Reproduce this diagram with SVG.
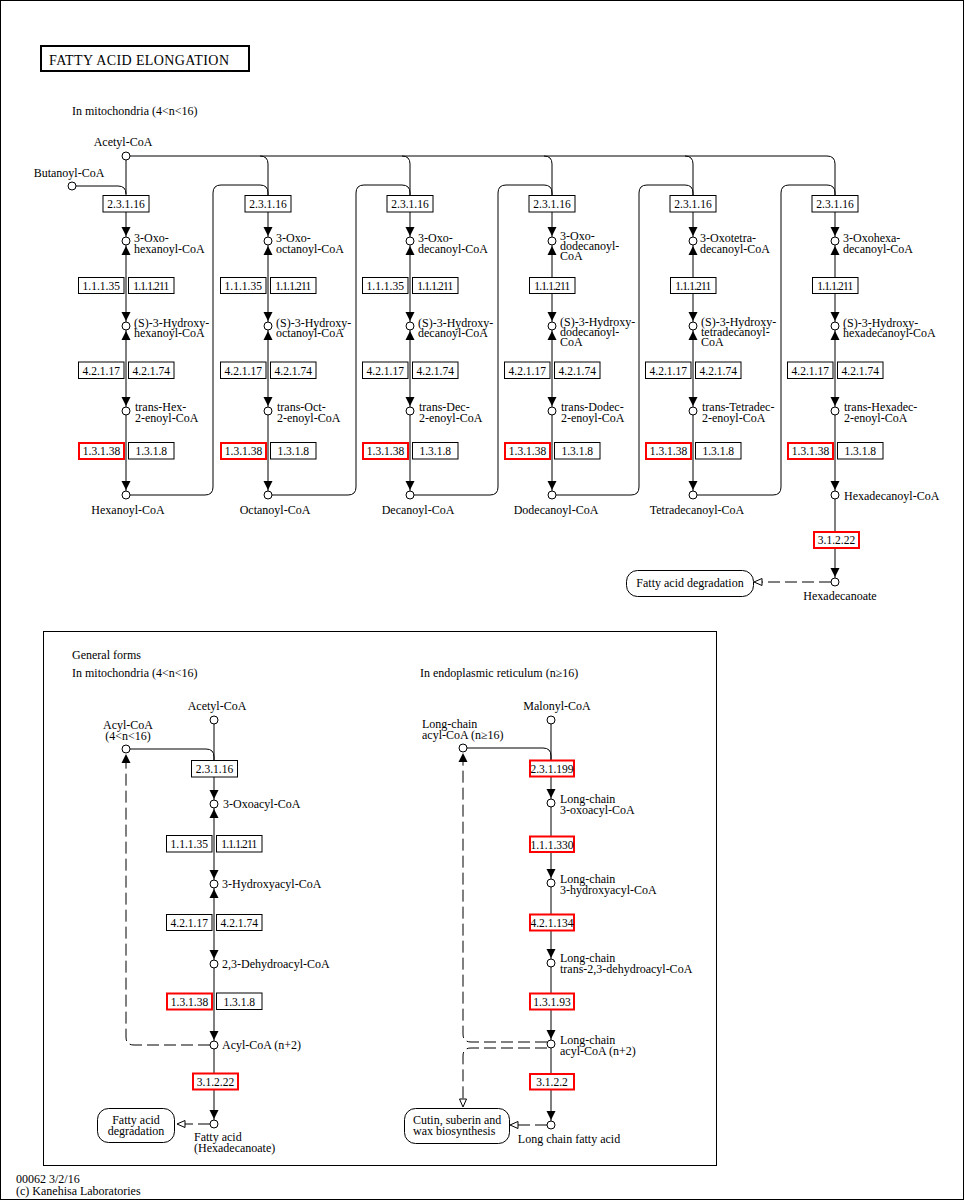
<svg xmlns="http://www.w3.org/2000/svg" xmlns:xlink="http://www.w3.org/1999/xlink" width="965" height="1201" viewBox="0 0 965 1201">
<style>
text{font-family:"Liberation Serif","Times New Roman",serif;font-size:12px;fill:#000}
.m{text-anchor:middle}
.et{font-size:11.5px;text-anchor:middle}
.c{fill:#fff;stroke:#000;stroke-width:1}
.e{fill:#fff;stroke:#000;stroke-width:1}
.r{fill:#fff;stroke:#f00;stroke-width:2}
.l{fill:none;stroke:#000;stroke-width:1}
.d{fill:none;stroke:#000;stroke-width:1;stroke-dasharray:12,5}
.h{fill:#fff;stroke:#000;stroke-width:1}
.p{fill:#fff;stroke:#000;stroke-width:1}
</style>
<defs>
<path id="ad" d="M-4.5,-14H4.5L0,-5Z" fill="#000"/>
<path id="au" d="M-4.5,14H4.5L0,5Z" fill="#000"/>
<path id="hl" d="M0,0L8,-3.5V3.5Z" class="h"/>
<path id="hd" d="M0,0L-3.5,-8H3.5Z" class="h"/>
</defs>
<rect x="0.5" y="0.5" width="963" height="1199" fill="#fff" stroke="#000"/>
<g id="title"><rect x="41" y="46" width="208" height="25" fill="none" stroke="#000" stroke-width="2"/><text x="49" y="65" style="font-size:14px" textLength="180">FATTY ACID ELONGATION</text></g>
<text x="72" y="115">In mitochondria (4&lt;n&lt;16)</text>
<rect x="43.5" y="631.5" width="673" height="534" fill="none" stroke="#000"/>
<text x="72" y="659">General forms</text>
<text x="72" y="677">In mitochondria (4&lt;n&lt;16)</text>
<text x="420" y="677">In endoplasmic reticulum (n≥16)</text>
<text x="16" y="1183">00062 3/2/16</text>
<text x="16" y="1195">(c) Kanehisa Laboratories</text>

<g id="connectors">
<path class="l" d="M126,156H827Q835,156 835,164V582"/>
<path class="l" d="M126,156V495"/>
<path class="l" d="M260,156Q268,156 268,164V495"/>
<path class="l" d="M402,156Q410,156 410,164V495"/>
<path class="l" d="M544,156Q552,156 552,164V495"/>
<path class="l" d="M685,156Q693,156 693,164V495"/>
<path class="l" d="M72,186H118Q126,186 126,194"/>
<path class="l" d="M126,495H205Q213,495 213,487V193Q213,185 221,185H260Q268,185 268,193V196"/>
<path class="l" d="M268,495H348Q356,495 356,487V193Q356,185 364,185H402Q410,185 410,193V196"/>
<path class="l" d="M410,495H490Q498,495 498,487V193Q498,185 506,185H544Q552,185 552,193V196"/>
<path class="l" d="M552,495H631Q639,495 639,487V193Q639,185 647,185H685Q693,185 693,193V196"/>
<path class="l" d="M693,495H773Q781,495 781,487V193Q781,185 789,185H827Q835,185 835,193V196"/>
<path class="d" d="M831,582H762"/>
<use xlink:href="#hl" x="754" y="582"/>
<use xlink:href="#ad" x="126" y="241"/><use xlink:href="#au" x="126" y="241"/><use xlink:href="#ad" x="126" y="326"/><use xlink:href="#au" x="126" y="326"/><use xlink:href="#ad" x="126" y="411"/><use xlink:href="#ad" x="126" y="495"/>
<use xlink:href="#ad" x="268" y="241"/><use xlink:href="#au" x="268" y="241"/><use xlink:href="#ad" x="268" y="326"/><use xlink:href="#au" x="268" y="326"/><use xlink:href="#ad" x="268" y="411"/><use xlink:href="#ad" x="268" y="495"/>
<use xlink:href="#ad" x="410" y="241"/><use xlink:href="#au" x="410" y="241"/><use xlink:href="#ad" x="410" y="326"/><use xlink:href="#au" x="410" y="326"/><use xlink:href="#ad" x="410" y="411"/><use xlink:href="#ad" x="410" y="495"/>
<use xlink:href="#ad" x="552" y="241"/><use xlink:href="#au" x="552" y="241"/><use xlink:href="#ad" x="552" y="326"/><use xlink:href="#au" x="552" y="326"/><use xlink:href="#ad" x="552" y="411"/><use xlink:href="#ad" x="552" y="495"/>
<use xlink:href="#ad" x="693" y="241"/><use xlink:href="#au" x="693" y="241"/><use xlink:href="#ad" x="693" y="326"/><use xlink:href="#au" x="693" y="326"/><use xlink:href="#ad" x="693" y="411"/><use xlink:href="#ad" x="693" y="495"/>
<use xlink:href="#ad" x="835" y="241"/><use xlink:href="#au" x="835" y="241"/><use xlink:href="#ad" x="835" y="326"/><use xlink:href="#au" x="835" y="326"/><use xlink:href="#ad" x="835" y="411"/><use xlink:href="#ad" x="835" y="495"/><use xlink:href="#ad" x="835" y="582"/>

<path class="l" d="M214,720V1124"/>
<path class="l" d="M130,749H206Q214,749 214,757V761"/>
<path class="d" d="M210,1045H134Q126,1045 126,1037V762"/>
<use xlink:href="#au" x="126" y="749"/>
<path class="d" d="M210,1124H185"/>
<use xlink:href="#hl" x="177" y="1124"/>
<use xlink:href="#ad" x="214" y="804"/><use xlink:href="#au" x="214" y="804"/><use xlink:href="#ad" x="214" y="884"/><use xlink:href="#au" x="214" y="884"/><use xlink:href="#ad" x="214" y="964"/><use xlink:href="#ad" x="214" y="1045"/><use xlink:href="#ad" x="214" y="1124"/>

<path class="l" d="M551,720V1125"/>
<path class="l" d="M467,748H543Q551,748 551,756V761"/>
<path class="d" d="M547,1042H471Q463,1042 463,1034V761"/>
<use xlink:href="#au" x="463" y="748"/>
<path class="d" d="M547,1048H471Q463,1048 463,1056V1099"/>
<use xlink:href="#hd" x="463" y="1107"/>
<path class="d" d="M547,1125H518"/>
<use xlink:href="#hl" x="510" y="1125"/>
<use xlink:href="#ad" x="551" y="803"/><use xlink:href="#ad" x="551" y="883"/><use xlink:href="#ad" x="551" y="963"/><use xlink:href="#ad" x="551" y="1044"/><use xlink:href="#ad" x="551" y="1125"/>
</g>

<!-- top compounds -->
<g id="acetyl"><circle class="c" cx="126" cy="156" r="4"/><text class="m" x="123" y="146">Acetyl-CoA</text></g>
<g id="butanoyl"><circle class="c" cx="72" cy="186" r="4"/><text class="m" x="69" y="177">Butanoyl-CoA</text></g>

<g id="c1a"><circle class="c" cx="126" cy="241" r="4"/><text x="134" y="242">3-Oxo-</text><text x="134" y="253">hexanoyl-CoA</text></g>
<g id="c1b"><circle class="c" cx="126" cy="326" r="4"/><text x="134" y="327">(S)-3-Hydroxy-</text><text x="134" y="337">hexanoyl-CoA</text></g>
<g id="c1c"><circle class="c" cx="126" cy="411" r="4"/><text x="135" y="411">trans-Hex-</text><text x="135" y="422">2-enoyl-CoA</text></g>
<g id="c1d"><circle class="c" cx="126" cy="495" r="4"/><text class="m" x="128" y="514">Hexanoyl-CoA</text></g>

<g id="c2a"><circle class="c" cx="268" cy="241" r="4"/><text x="276" y="242">3-Oxo-</text><text x="276" y="253">octanoyl-CoA</text></g>
<g id="c2b"><circle class="c" cx="268" cy="326" r="4"/><text x="276" y="327">(S)-3-Hydroxy-</text><text x="276" y="337">octanoyl-CoA</text></g>
<g id="c2c"><circle class="c" cx="268" cy="411" r="4"/><text x="277" y="411">trans-Oct-</text><text x="277" y="422">2-enoyl-CoA</text></g>
<g id="c2d"><circle class="c" cx="268" cy="495" r="4"/><text class="m" x="275" y="514">Octanoyl-CoA</text></g>

<g id="c3a"><circle class="c" cx="410" cy="241" r="4"/><text x="418" y="242">3-Oxo-</text><text x="418" y="253">decanoyl-CoA</text></g>
<g id="c3b"><circle class="c" cx="410" cy="326" r="4"/><text x="418" y="327">(S)-3-Hydroxy-</text><text x="418" y="337">decanoyl-CoA</text></g>
<g id="c3c"><circle class="c" cx="410" cy="411" r="4"/><text x="419" y="411">trans-Dec-</text><text x="419" y="422">2-enoyl-CoA</text></g>
<g id="c3d"><circle class="c" cx="410" cy="495" r="4"/><text class="m" x="418" y="514">Decanoyl-CoA</text></g>

<g id="c4a"><circle class="c" cx="552" cy="241" r="4"/><text x="560" y="240">3-Oxo-</text><text x="560" y="250">dodecanoyl-</text><text x="560" y="260">CoA</text></g>
<g id="c4b"><circle class="c" cx="552" cy="326" r="4"/><text x="560" y="326">(S)-3-Hydroxy-</text><text x="560" y="336">dodecanoyl-</text><text x="560" y="346">CoA</text></g>
<g id="c4c"><circle class="c" cx="552" cy="411" r="4"/><text x="561" y="411">trans-Dodec-</text><text x="561" y="422">2-enoyl-CoA</text></g>
<g id="c4d"><circle class="c" cx="552" cy="495" r="4"/><text class="m" x="556" y="514">Dodecanoyl-CoA</text></g>

<g id="c5a"><circle class="c" cx="693" cy="241" r="4"/><text x="700" y="242">3-Oxotetra-</text><text x="700" y="253">decanoyl-CoA</text></g>
<g id="c5b"><circle class="c" cx="693" cy="326" r="4"/><text x="701" y="326">(S)-3-Hydroxy-</text><text x="701" y="336">tetradecanoyl-</text><text x="701" y="346">CoA</text></g>
<g id="c5c"><circle class="c" cx="693" cy="411" r="4"/><text x="702" y="411">trans-Tetradec-</text><text x="702" y="422">2-enoyl-CoA</text></g>
<g id="c5d"><circle class="c" cx="693" cy="495" r="4"/><text class="m" x="697" y="514">Tetradecanoyl-CoA</text></g>

<g id="c6a"><circle class="c" cx="835" cy="241" r="4"/><text x="843" y="242">3-Oxohexa-</text><text x="843" y="253">decanoyl-CoA</text></g>
<g id="c6b"><circle class="c" cx="835" cy="326" r="4"/><text x="843" y="327">(S)-3-Hydroxy-</text><text x="843" y="337">hexadecanoyl-CoA</text></g>
<g id="c6c"><circle class="c" cx="835" cy="411" r="4"/><text x="844" y="411">trans-Hexadec-</text><text x="844" y="422">2-enoyl-CoA</text></g>
<g id="c6d"><circle class="c" cx="835" cy="495" r="4"/><text x="844" y="500">Hexadecanoyl-CoA</text></g>
<g id="hexadecanoate"><circle class="c" cx="835" cy="582" r="4"/><text class="m" x="840" y="600">Hexadecanoate</text></g>
<g id="fad1"><rect class="p" x="626.5" y="570.5" width="127" height="26" rx="11"/><text class="m" x="690" y="587">Fatty acid degradation</text></g>

<!-- top enzymes -->
<g id="e1a"><rect class="e" x="103" y="195.5" width="46" height="16.5"/><text class="et" x="126" y="208">2.3.1.16</text></g>
<g id="e2a"><rect class="e" x="245" y="195.5" width="46" height="16.5"/><text class="et" x="268" y="208">2.3.1.16</text></g>
<g id="e3a"><rect class="e" x="387" y="195.5" width="46" height="16.5"/><text class="et" x="410" y="208">2.3.1.16</text></g>
<g id="e4a"><rect class="e" x="529" y="195.5" width="46" height="16.5"/><text class="et" x="552" y="208">2.3.1.16</text></g>
<g id="e5a"><rect class="e" x="670" y="195.5" width="46" height="16.5"/><text class="et" x="693" y="208">2.3.1.16</text></g>
<g id="e6a"><rect class="e" x="812" y="195.5" width="46" height="16.5"/><text class="et" x="835" y="208">2.3.1.16</text></g>

<g id="e1b1"><rect class="e" x="78.5" y="277.5" width="45.5" height="16"/><text class="et" x="101.25" y="290">1.1.1.35</text></g>
<g id="e1b2"><rect class="e" x="128.5" y="277.5" width="45.5" height="16"/><text class="et" x="151.25" y="290" textLength="36">1.1.1.211</text></g>
<g id="e2b1"><rect class="e" x="220.5" y="277.5" width="45.5" height="16"/><text class="et" x="243.25" y="290">1.1.1.35</text></g>
<g id="e2b2"><rect class="e" x="270.5" y="277.5" width="45.5" height="16"/><text class="et" x="293.25" y="290" textLength="36">1.1.1.211</text></g>
<g id="e3b1"><rect class="e" x="362.5" y="277.5" width="45.5" height="16"/><text class="et" x="385.25" y="290">1.1.1.35</text></g>
<g id="e3b2"><rect class="e" x="412.5" y="277.5" width="45.5" height="16"/><text class="et" x="435.25" y="290" textLength="36">1.1.1.211</text></g>
<g id="e4b"><rect class="e" x="529.5" y="277.5" width="45.5" height="16"/><text class="et" x="552.25" y="290" textLength="36">1.1.1.211</text></g>
<g id="e5b"><rect class="e" x="670.5" y="277.5" width="45.5" height="16"/><text class="et" x="693.25" y="290" textLength="36">1.1.1.211</text></g>
<g id="e6b"><rect class="e" x="812.5" y="277.5" width="45.5" height="16"/><text class="et" x="835.25" y="290" textLength="36">1.1.1.211</text></g>

<g id="e1c1"><rect class="e" x="78.5" y="362" width="45.5" height="16.5"/><text class="et" x="101.25" y="375">4.2.1.17</text></g>
<g id="e1c2"><rect class="e" x="128.5" y="362" width="45.5" height="16.5"/><text class="et" x="151.25" y="375">4.2.1.74</text></g>
<g id="e2c1"><rect class="e" x="220.5" y="362" width="45.5" height="16.5"/><text class="et" x="243.25" y="375">4.2.1.17</text></g>
<g id="e2c2"><rect class="e" x="270.5" y="362" width="45.5" height="16.5"/><text class="et" x="293.25" y="375">4.2.1.74</text></g>
<g id="e3c1"><rect class="e" x="362.5" y="362" width="45.5" height="16.5"/><text class="et" x="385.25" y="375">4.2.1.17</text></g>
<g id="e3c2"><rect class="e" x="412.5" y="362" width="45.5" height="16.5"/><text class="et" x="435.25" y="375">4.2.1.74</text></g>
<g id="e4c1"><rect class="e" x="504.5" y="362" width="45.5" height="16.5"/><text class="et" x="527.25" y="375">4.2.1.17</text></g>
<g id="e4c2"><rect class="e" x="554.5" y="362" width="45.5" height="16.5"/><text class="et" x="577.25" y="375">4.2.1.74</text></g>
<g id="e5c1"><rect class="e" x="645.5" y="362" width="45.5" height="16.5"/><text class="et" x="668.25" y="375">4.2.1.17</text></g>
<g id="e5c2"><rect class="e" x="695.5" y="362" width="45.5" height="16.5"/><text class="et" x="718.25" y="375">4.2.1.74</text></g>
<g id="e6c1"><rect class="e" x="787.5" y="362" width="45.5" height="16.5"/><text class="et" x="810.25" y="375">4.2.1.17</text></g>
<g id="e6c2"><rect class="e" x="837.5" y="362" width="45.5" height="16.5"/><text class="et" x="860.25" y="375">4.2.1.74</text></g>

<g id="e1d1"><rect class="r" x="79" y="443" width="45" height="16"/><text class="et" x="101.5" y="455">1.3.1.38</text></g>
<g id="e1d2"><rect class="e" x="128.5" y="442.5" width="45.5" height="16.5"/><text class="et" x="151.25" y="455">1.3.1.8</text></g>
<g id="e2d1"><rect class="r" x="221" y="443" width="45" height="16"/><text class="et" x="243.5" y="455">1.3.1.38</text></g>
<g id="e2d2"><rect class="e" x="270.5" y="442.5" width="45.5" height="16.5"/><text class="et" x="293.25" y="455">1.3.1.8</text></g>
<g id="e3d1"><rect class="r" x="363" y="443" width="45" height="16"/><text class="et" x="385.5" y="455">1.3.1.38</text></g>
<g id="e3d2"><rect class="e" x="412.5" y="442.5" width="45.5" height="16.5"/><text class="et" x="435.25" y="455">1.3.1.8</text></g>
<g id="e4d1"><rect class="r" x="505" y="443" width="45" height="16"/><text class="et" x="527.5" y="455">1.3.1.38</text></g>
<g id="e4d2"><rect class="e" x="554.5" y="442.5" width="45.5" height="16.5"/><text class="et" x="577.25" y="455">1.3.1.8</text></g>
<g id="e5d1"><rect class="r" x="646" y="443" width="45" height="16"/><text class="et" x="668.5" y="455">1.3.1.38</text></g>
<g id="e5d2"><rect class="e" x="695.5" y="442.5" width="45.5" height="16.5"/><text class="et" x="718.25" y="455">1.3.1.8</text></g>
<g id="e6d1"><rect class="r" x="788" y="443" width="45" height="16"/><text class="et" x="810.5" y="455">1.3.1.38</text></g>
<g id="e6d2"><rect class="e" x="837.5" y="442.5" width="45.5" height="16.5"/><text class="et" x="860.25" y="455">1.3.1.8</text></g>
<g id="e6e"><rect class="r" x="814" y="532" width="45" height="16"/><text class="et" x="836.5" y="544">3.1.2.22</text></g>

<!-- general form: mitochondria -->
<g id="g_acetyl"><circle class="c" cx="214" cy="720" r="4"/><text class="m" x="217" y="710">Acetyl-CoA</text></g>
<g id="g_acyl"><circle class="c" cx="126" cy="749" r="4"/><text class="m" x="128" y="729">Acyl-CoA</text><text class="m" x="128" y="740">(4&lt;n&lt;16)</text></g>
<g id="g_oxo"><circle class="c" cx="214" cy="804" r="4"/><text x="223" y="808">3-Oxoacyl-CoA</text></g>
<g id="g_hyd"><circle class="c" cx="214" cy="884" r="4"/><text x="222" y="888">3-Hydroxyacyl-CoA</text></g>
<g id="g_deh"><circle class="c" cx="214" cy="964" r="4"/><text x="222" y="968">2,3-Dehydroacyl-CoA</text></g>
<g id="g_acyl2"><circle class="c" cx="214" cy="1045" r="4"/><text x="222" y="1049">Acyl-CoA (n+2)</text></g>
<g id="g_fa"><circle class="c" cx="214" cy="1124" r="4"/><text x="194" y="1141">Fatty acid</text><text x="194" y="1152">(Hexadecanoate)</text></g>
<g id="fad2"><rect class="p" x="97.5" y="1108.5" width="77" height="34" rx="11"/><text class="m" x="136" y="1124">Fatty acid</text><text class="m" x="136" y="1135">degradation</text></g>

<g id="ge1"><rect class="e" x="191.5" y="760.5" width="46" height="16.5"/><text class="et" x="214.5" y="773">2.3.1.16</text></g>
<g id="ge2a"><rect class="e" x="166.5" y="835.5" width="45.5" height="16.5"/><text class="et" x="189.25" y="848">1.1.1.35</text></g>
<g id="ge2b"><rect class="e" x="216.5" y="835.5" width="45.5" height="16.5"/><text class="et" x="239.25" y="848" textLength="36">1.1.1.211</text></g>
<g id="ge3a"><rect class="e" x="166.5" y="914.5" width="45.5" height="16"/><text class="et" x="189.25" y="927">4.2.1.17</text></g>
<g id="ge3b"><rect class="e" x="216.5" y="914.5" width="45.5" height="16"/><text class="et" x="239.25" y="927">4.2.1.74</text></g>
<g id="ge4a"><rect class="r" x="167" y="993.5" width="45" height="16"/><text class="et" x="189.5" y="1006">1.3.1.38</text></g>
<g id="ge4b"><rect class="e" x="216.5" y="993" width="45.5" height="16.5"/><text class="et" x="239.25" y="1006">1.3.1.8</text></g>
<g id="ge5"><rect class="r" x="193" y="1073.5" width="45" height="16"/><text class="et" x="215.5" y="1086">3.1.2.22</text></g>

<!-- general form: ER -->
<g id="r_mal"><circle class="c" cx="551" cy="720" r="4"/><text class="m" x="557" y="710">Malonyl-CoA</text></g>
<g id="r_lc16"><circle class="c" cx="463" cy="748" r="4"/><text x="422" y="728">Long-chain</text><text x="422" y="739">acyl-CoA (n≥16)</text></g>
<g id="r_oxo"><circle class="c" cx="551" cy="803" r="4"/><text x="560" y="803">Long-chain</text><text x="560" y="814">3-oxoacyl-CoA</text></g>
<g id="r_hyd"><circle class="c" cx="551" cy="883" r="4"/><text x="560" y="883">Long-chain</text><text x="560" y="894">3-hydroxyacyl-CoA</text></g>
<g id="r_deh"><circle class="c" cx="551" cy="963" r="4"/><text x="560" y="962">Long-chain</text><text x="560" y="973">trans-2,3-dehydroacyl-CoA</text></g>
<g id="r_acyl2"><circle class="c" cx="551" cy="1044" r="4"/><text x="560" y="1044">Long-chain</text><text x="560" y="1055">acyl-CoA (n+2)</text></g>
<g id="r_lcfa"><circle class="c" cx="551" cy="1125" r="4"/><text class="m" x="569" y="1143">Long chain fatty acid</text></g>
<g id="cutin"><rect class="p" x="404.5" y="1108.5" width="105" height="35" rx="11"/><text x="413" y="1124">Cutin, suberin and</text><text x="413" y="1135">wax biosynthesis</text></g>

<g id="re1"><rect class="r" x="530" y="760.5" width="44" height="16"/><text class="et" x="552" y="773">2.3.1.199</text></g>
<g id="re2"><rect class="r" x="530" y="836.5" width="44" height="15.5"/><text class="et" x="552" y="849">1.1.1.330</text></g>
<g id="re3"><rect class="r" x="530" y="914.5" width="44" height="16"/><text class="et" x="552" y="927">4.2.1.134</text></g>
<g id="re4"><rect class="r" x="530" y="993.5" width="44" height="16"/><text class="et" x="552" y="1006">1.3.1.93</text></g>
<g id="re5"><rect class="r" x="530" y="1074" width="44" height="15.5"/><text class="et" x="552" y="1086">3.1.2.2</text></g>
</svg>
